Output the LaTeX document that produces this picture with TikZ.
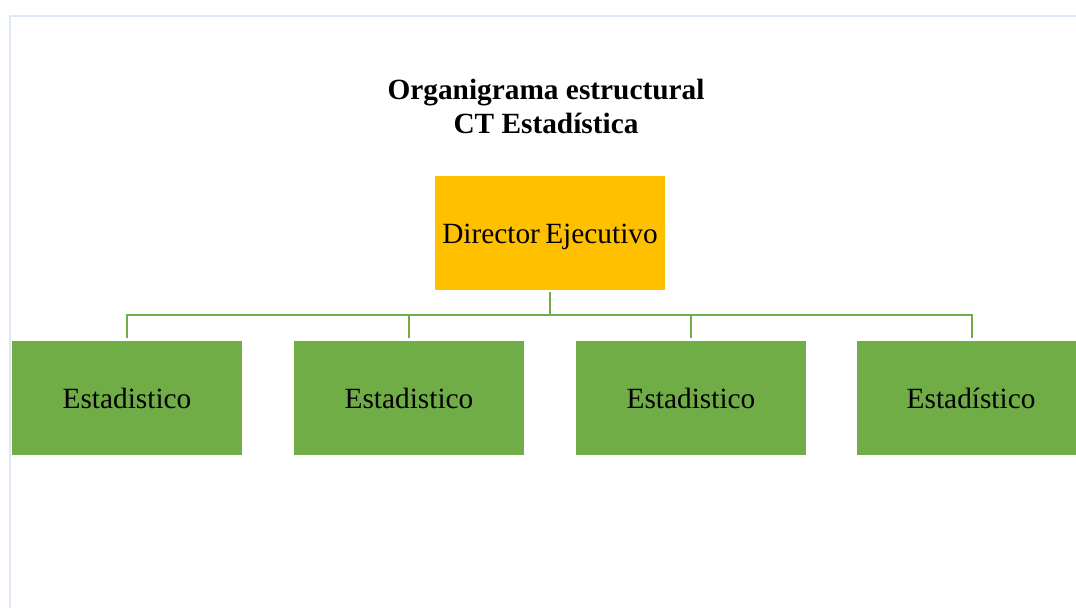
\documentclass[tikz,border=0pt]{standalone}
\usepackage{fontspec}
\setmainfont{Liberation Serif}
\definecolor{dirfill}{HTML}{FFC000}
\definecolor{grn}{HTML}{70AD47}
\definecolor{frame}{HTML}{DDE8F4}
\begin{document}
\begin{tikzpicture}[x=0.75pt,y=-0.75pt,
  dirbox/.style={fill=dirfill,draw=none,minimum width=172.5pt,minimum height=85.5pt,inner sep=0pt,text height=16pt,text depth=0pt,font=\fontsize{22}{26}\selectfont},
  staffbox/.style={fill=grn,draw=none,minimum width=172.5pt,minimum height=85.5pt,inner sep=0pt,font=\fontsize{22}{26}\selectfont},
  link/.style={draw=grn,line width=1.9pt}]
\useasboundingbox (0,0) rectangle (1076,608);
\draw[frame,line width=1.5pt] (10,608) -- (10,16) -- (1076,16);
\node[align=center,font=\bfseries\fontsize{22}{25.5}\selectfont] (title) at (546,106) {Organigrama estructural\\CT Estadística};
\node[dirbox] (dir) at (550,233) {Director\hspace{-1.5pt} Ejecutivo};
\node[staffbox] (s1) at (127,398) {Estadistico};
\node[staffbox] (s2) at (409,398) {Estadistico};
\node[staffbox] (s3) at (691,398) {Estadistico};
\node[staffbox,minimum width=164.25pt,anchor=west] (s4) at (857,398) {\hspace*{6.5pt}Estadístico};
\coordinate (bus) at (550,315);
\coordinate (d1) at (127,315);
\coordinate (d2) at (409,315);
\coordinate (d3) at (691,315);
\coordinate (d4) at (972,315);
\draw[link] ([yshift=-1.5pt]dir.south) -- (bus);
\draw[link] ([yshift=2.25pt]s1.north) -- (d1) -- (d4) -- ([yshift=2.25pt]s4.north -| d4);
\draw[link] (d2) -- ([yshift=2.25pt]s2.north);
\draw[link] (d3) -- ([yshift=2.25pt]s3.north);
\end{tikzpicture}
\end{document}
